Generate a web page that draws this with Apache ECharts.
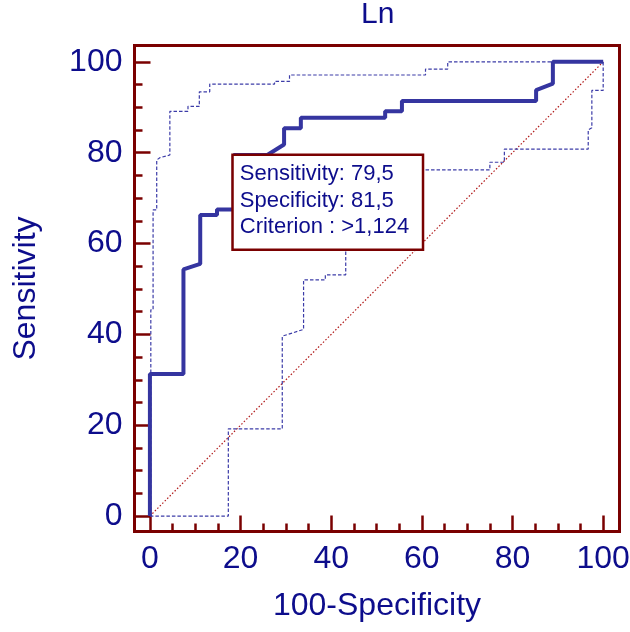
<!DOCTYPE html>
<html>
<head>
<meta charset="utf-8">
<script src="https://cdn.jsdelivr.net/npm/echarts@6/dist/echarts.min.js"></script>
<style>
  html, body { margin: 0; padding: 0; background: #fff; }
  #chart { width: 630px; height: 632px; }
</style>
</head>
<body>
<div id="chart"></div>
<script>
// ROC curve (100-Specificity, Sensitivity)
var rocPoints = [
  [0, 0], [0, 31.3], [7.4, 31.3], [7.4, 54.3], [11.1, 55.5], [11.1, 66.3],
  [14.8, 66.3], [14.8, 67.5], [18.5, 67.5], [18.5, 79.5], [25.9, 79.5],
  [29.6, 81.8], [29.6, 85.4], [33.3, 85.4], [33.3, 87.7], [51.9, 87.7],
  [51.9, 89.1], [55.6, 89.1], [55.6, 91.4], [85.2, 91.4], [85.2, 93.8],
  [88.9, 95.2], [88.9, 100], [100, 100]
];
// upper confidence bound
var upperBand = [
  [0.2, 0], [0.2, 45.4], [0.7, 45.4], [0.7, 67.4], [1.5, 67.4], [1.5, 78.4],
  [2.2, 78.9], [4.4, 79.5], [4.4, 89.1], [8.4, 89.1], [8.4, 90.2],
  [10.9, 90.2], [10.9, 93.4], [13.2, 93.4], [13.2, 95.1], [27.5, 95.1],
  [27.5, 95.7], [30.8, 95.7], [30.8, 97.1], [60.8, 97.1], [60.8, 98.4],
  [65.7, 98.4], [65.7, 100], [100, 100]
];
// lower confidence bound
var lowerBand = [
  [0, 0], [17.3, 0], [17.3, 19.2], [29.2, 19.2], [29.2, 39.6], [33.9, 41.1],
  [33.9, 52.0], [38.7, 52.0], [38.7, 53.1], [43.2, 53.1], [43.2, 76.2],
  [75.0, 76.2], [75.0, 77.9], [78.2, 77.9], [78.2, 80.8], [96.7, 80.8],
  [96.7, 85.0], [97.5, 85.5], [97.5, 93.7], [100, 93.7], [100, 100]
];
var diagonal = [[0, 0], [100, 100]];
var criterionPoint = [18.5, 79.5];
var criterionLines = ['Sensitivity: 79,5', 'Specificity: 81,5', 'Criterion : >1,124'];

var majorTicks = [0, 20, 40, 60, 80, 100];
var minorTicks = [5, 10, 15, 25, 30, 35, 45, 50, 55, 65, 70, 75, 85, 90, 95];

var navy = '#0d0d8c';
var frame = '#7a0000';
var font = 'Liberation Sans, Arial, sans-serif';

function majorAxis(name, gap) {
  return {
    type: 'value', min: -3.4, max: 103.6,
    name: name, nameLocation: 'middle', nameGap: gap,
    nameTextStyle: { fontSize: 32, color: navy, fontFamily: font },
    axisLine: { show: false, onZero: false },
    splitLine: { show: false },
    axisTick: { show: true, inside: true, length: 16, customValues: majorTicks,
      lineStyle: { color: frame, width: 2.5 } },
    axisLabel: { customValues: majorTicks, fontSize: 32, color: navy, margin: 12, fontFamily: font }
  };
}
function minorAxis() {
  return {
    type: 'value', min: -3.4, max: 103.6,
    axisLine: { show: false, onZero: false },
    splitLine: { show: false },
    axisTick: { show: true, inside: true, length: 8, customValues: minorTicks,
      lineStyle: { color: frame, width: 2.5 } },
    axisLabel: { show: false }
  };
}

var xMajor = majorAxis('100-Specificity', 59);
xMajor.position = 'bottom';
var xMinor = minorAxis();
xMinor.position = 'bottom';
var yMajor = majorAxis('Sensitivity', 92);
yMajor.position = 'left';
var yMinor = minorAxis();
yMinor.position = 'left';

var chart = echarts.init(document.getElementById('chart'));
var option = {
  animation: false,
  backgroundColor: '#fff',
  textStyle: { fontFamily: font },
  title: {
    text: 'Ln', left: 361, top: 0, padding: 0,
    textStyle: { fontSize: 30, fontWeight: 'normal', color: navy, fontFamily: font }
  },
  grid: {
    left: 134.5, right: 10.5, top: 45.5, bottom: 100.5,
    outerBoundsMode: 'none',
    containLabel: false,
    show: true, borderColor: frame, borderWidth: 3, backgroundColor: '#fff'
  },
  xAxis: [xMajor, xMinor],
  yAxis: [yMajor, yMinor],
  series: [
    {
      type: 'line', data: diagonal, symbol: 'none', z: 2,
      lineStyle: { color: '#b01818', width: 1.2, type: [1.5, 2] }
    },
    {
      type: 'line', data: lowerBand, symbol: 'none', z: 3,
      lineStyle: { color: '#3c3ca8', width: 1.2, type: [3.5, 2] }
    },
    {
      type: 'line', data: upperBand, symbol: 'none', z: 3,
      lineStyle: { color: '#3c3ca8', width: 1.2, type: [3.5, 2] }
    },
    {
      type: 'line', data: rocPoints, symbol: 'none', z: 4,
      lineStyle: { color: '#3535a0', width: 4 }
    },
    {
      type: 'scatter', data: [criterionPoint], symbolSize: 0, z: 10,
      silent: true,
      itemStyle: { opacity: 1 },
      label: {
        show: true,
        position: [0, 1],
        align: 'left',
        verticalAlign: 'top',
        formatter: criterionLines.join('\n'),
        fontSize: 22,
        lineHeight: 26.5,
        color: navy,
        fontFamily: font,
        backgroundColor: '#fff',
        borderColor: frame,
        borderWidth: 2.5,
        width: 176,
        padding: [5, 6, 8, 6]
      }
    }
  ]
};
chart.setOption(option);
</script>
</body>
</html>
